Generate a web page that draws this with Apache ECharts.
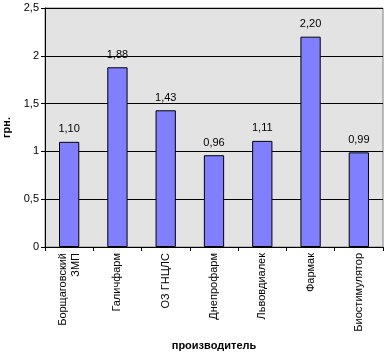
<!DOCTYPE html>
<html><head><meta charset="utf-8">
<script src="https://cdn.jsdelivr.net/npm/echarts@6/dist/echarts.min.js"></script>
<style>html,body{margin:0;padding:0;background:#fff}#c{width:388px;height:355px}</style>
</head><body><div id="c"></div>
<script>
const categories = ['Борщаговский\nЗМП', 'Галичфарм', 'ОЗ ГНЦЛС', 'Днепрофарм', 'Львовдиалек', 'Фармак', 'Биостимулятор'];
const values = [1.10, 1.88, 1.43, 0.96, 1.11, 2.20, 0.99];
const yTicks = {min: 0, max: 2.5, interval: 0.5};
const xTitle = 'производитель';
const yTitle = 'грн.';

const FONT = '"Liberation Sans", Arial, sans-serif';
const chart = echarts.init(document.getElementById('c'), null, {renderer: 'canvas'});
chart.setOption({
  animation: false,
  backgroundColor: '#fff',
  grid: {left: 45, right: 5, top: 8, bottom: 108, containLabel: false, outerBoundsMode: 'none',
    show: true, backgroundColor: '#E3E3E3', borderColor: '#808080', borderWidth: 1},
  xAxis: {
    type: 'category', data: categories,
    name: xTitle, nameLocation: 'middle', nameGap: 93,
    nameTextStyle: {fontFamily: FONT, fontSize: 11, fontWeight: 'bold', color: '#000'},
    axisLine: {lineStyle: {color: '#000', width: 1}},
    axisTick: {show: true, alignWithLabel: false, length: 4, inside: false, lineStyle: {color: '#000'}},
    axisLabel: {rotate: 90, fontFamily: FONT, fontSize: 11, color: '#000', margin: 6, lineHeight: 13, interval: 0}
  },
  yAxis: {
    type: 'value', min: yTicks.min, max: yTicks.max, interval: yTicks.interval,
    name: yTitle, nameLocation: 'middle', nameGap: 33, nameRotate: 90,
    nameTextStyle: {fontFamily: FONT, fontSize: 11, fontWeight: 'bold', color: '#000'},
    axisLine: {show: true, lineStyle: {color: '#000', width: 1}},
    axisTick: {show: true, length: 4, lineStyle: {color: '#000'}},
    splitLine: {show: true, lineStyle: {color: '#000', width: 1}},
    axisLabel: {fontFamily: FONT, fontSize: 11, color: '#000', margin: 6,
      formatter: v => String(v).replace('.', ',')}
  },
  series: [{
    type: 'bar', data: values, barWidth: '42%',
    itemStyle: {color: '#8080FF', borderColor: '#000', borderWidth: 1},
    label: {show: true, position: 'top', distance: 7, fontFamily: FONT, fontSize: 11, color: '#000',
      formatter: p => p.value.toFixed(2).replace('.', ',')}
  }]
});
</script></body></html>
